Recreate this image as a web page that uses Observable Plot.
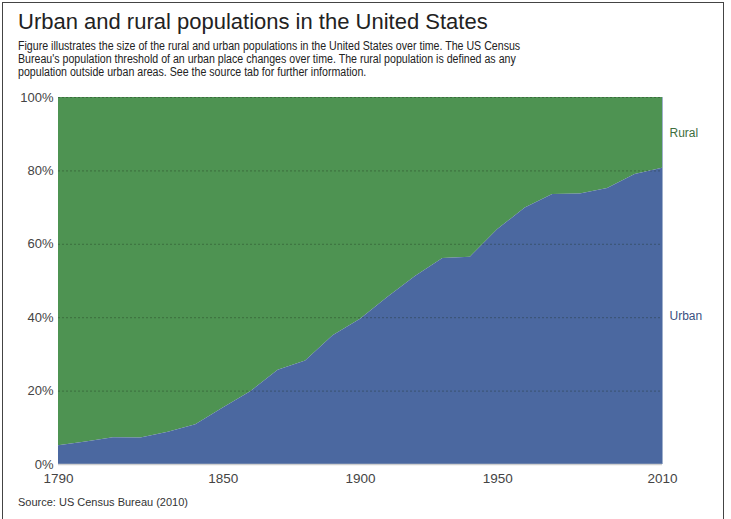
<!DOCTYPE html>
<html>
<head>
<meta charset="utf-8">
<script src="https://cdn.jsdelivr.net/npm/d3@7"></script>
<script src="https://cdn.jsdelivr.net/npm/@observablehq/plot@0.6"></script>
<style>
  html, body { margin: 0; padding: 0; background: #fff; overflow: hidden; }
  #page { position: relative; width: 731px; height: 519px; overflow: hidden; font-family: "Liberation Sans", Arial, Helvetica, sans-serif; }
  #frame { position: absolute; left: 2px; top: 2px; width: 722px; height: 600px; border: 1.5px solid #444; box-sizing: border-box; }
  #title { position: absolute; left: 18px; top: 9px; font-size: 22px; color: #222; white-space: nowrap; }
  #subtitle { position: absolute; left: 18px; top: 40px; font-size: 12px; line-height: 13px; color: #222; white-space: nowrap; transform: scaleX(0.885); transform-origin: 0 0; }
  #chart { position: absolute; left: 0; top: 0; }
  #source { position: absolute; left: 18px; top: 496px; font-size: 11px; color: #333; white-space: nowrap; }
</style>
</head>
<body>
<div id="page">
  <div id="frame"></div>
  <div id="chart"></div>
  <div id="title">Urban and rural populations in the United States</div>
  <div id="subtitle">Figure illustrates the size of the rural and urban populations in the United States over time. The US Census<br>Bureau's population threshold of an urban place changes over time. The rural population is defined as any<br>population outside urban areas. See the source tab for further information.</div>
  <div id="source">Source: US Census Bureau (2010)</div>
</div>
<script>
const years = [1790, 1800, 1810, 1820, 1830, 1840, 1850, 1860, 1870, 1880, 1890, 1900, 1910, 1920, 1930, 1940, 1950, 1960, 1970, 1980, 1990, 2000, 2010];
const urbanPct = [5.1, 6.1, 7.3, 7.2, 8.8, 10.8, 15.4, 19.8, 25.7, 28.2, 35.1, 39.6, 45.6, 51.2, 56.1, 56.5, 64.0, 69.9, 73.6, 73.7, 75.2, 79.0, 80.7];
const seriesNames = ["Rural", "Urban"];
const xTicks = [1790, 1850, 1900, 1950, 2010];
const yTicks = [0, 20, 40, 60, 80, 100];

const green = "#4e9352";
const blue = "#4b68a0";

const data = years.map((y, i) => ({ year: y, urban: urbanPct[i] }));
const last = data[data.length - 1];
const labels = [
  { name: seriesNames[0], x: last.year, y: (100 + last.urban) / 2, color: "#3d6e40" },
  { name: seriesNames[1], x: last.year, y: last.urban / 2, color: "#3a5080" }
];

const chart = Plot.plot({
  width: 731,
  height: 519,
  marginTop: 97,
  marginBottom: 55,
  marginLeft: 58,
  marginRight: 69,
  style: { fontFamily: "Liberation Sans, Arial, sans-serif", fontSize: "13px", color: "#444", background: "transparent" },
  x: { domain: [1790, 2010], ticks: xTicks, tickFormat: d => String(d), tickSize: 0, tickPadding: 9, label: null },
  y: { domain: [0, 100], ticks: yTicks, tickFormat: d => d + "%", tickSize: 0, tickPadding: 5, label: null },
  marks: [
    Plot.areaY(data, { x: "year", y1: "urban", y2: 100, fill: green }),
    Plot.areaY(data, { x: "year", y1: 0, y2: "urban", fill: blue }),
    Plot.ruleY(yTicks.filter(d => d > 0), { stroke: "#1a2a1a", strokeOpacity: 0.35, strokeDasharray: "2,2" }),
    Plot.ruleY([0], { stroke: "#cfcfcf", strokeWidth: 1.5 }),
    Plot.ruleX([2010], { stroke: "#9fb0cc", strokeWidth: 1 }),
    Plot.text(labels, { x: "x", y: "y", text: "name", fill: "color", textAnchor: "start", dx: 7, fontSize: 12 })
  ]
});
chart.querySelectorAll("g[aria-label='x-axis tick label'] text").forEach(t => t.setAttribute("font-size", "13.5"));
document.getElementById("chart").appendChild(chart);
</script>
</body>
</html>
